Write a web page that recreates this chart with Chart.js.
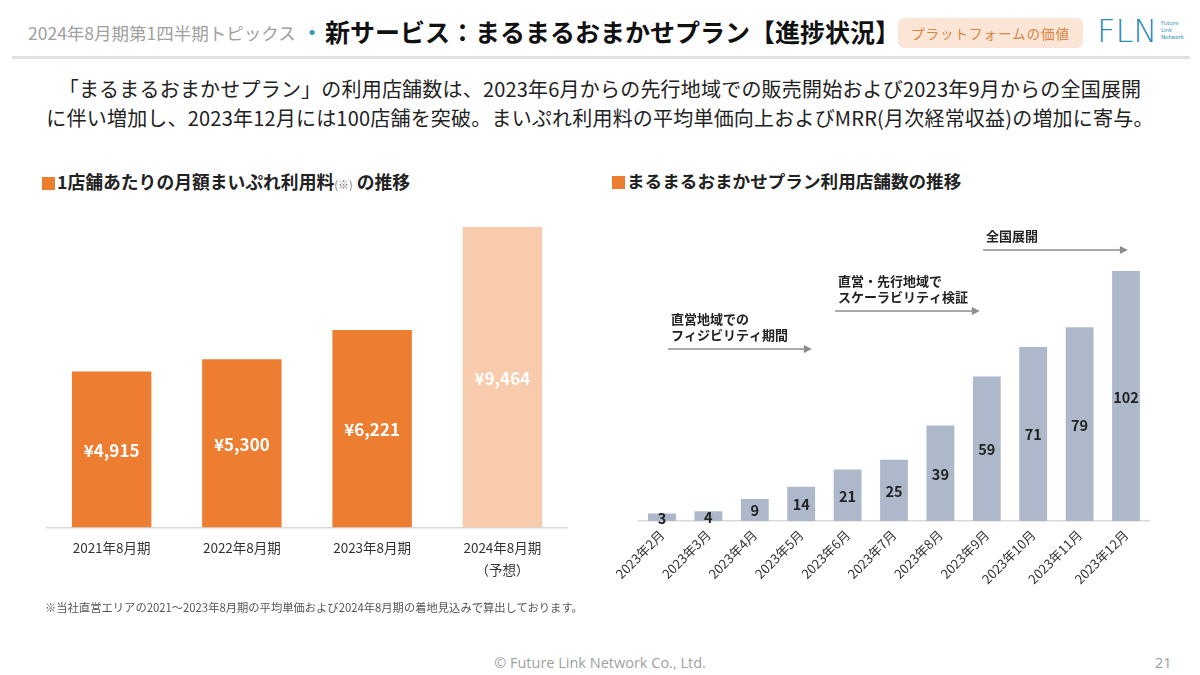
<!DOCTYPE html>
<html><head><meta charset="utf-8">
<script src="https://cdn.jsdelivr.net/npm/chart.js@4.4.0/dist/chart.umd.min.js"></script>
<style>
html,body{margin:0;padding:0;background:#fff;}
body{width:1200px;height:675px;position:relative;overflow:hidden;font-family:"Noto Sans CJK JP","Noto Sans",sans-serif;}
.abs{position:absolute;white-space:nowrap;}
#hdrSub{left:28px;top:20px;font-size:17.5px;color:#a0a0a0;}
#hdrDot{left:302px;top:17px;font-size:20px;color:#3a95b0;font-weight:bold;}
#hdrMain{left:325px;top:13px;font-size:25px;font-weight:bold;color:#111;}
#badge{left:898px;top:18px;width:185px;height:30px;background:#fbe5d6;border-radius:6px;color:#d9843f;font-size:13.5px;line-height:30px;text-align:center;letter-spacing:1px;}
#logo{left:1097px;top:12px;font-size:32px;color:#2e8cb6;font-family:"DejaVu Sans",sans-serif;font-weight:300;letter-spacing:0px;}
#logoSm{left:1161px;top:20px;font-size:5.5px;line-height:7px;color:#2e8cb6;font-family:"DejaVu Sans",sans-serif;}
#rule{left:12px;top:56px;width:1178px;height:3px;background:#e0e0e0;}
#body{left:0;top:74px;width:1200px;text-align:center;font-size:20px;line-height:29px;color:#222;letter-spacing:0.2px;}
.ttl{font-weight:bold;color:#222;}
.sq{display:inline-block;width:13px;height:13px;background:#ed7d31;margin-right:2px;vertical-align:-1px;}
#t1{left:42px;top:168px;font-size:17.8px;}
#t2{left:612px;top:168px;font-size:17.6px;}
.sm{font-size:11px;color:#777;font-weight:normal;}
#note{left:45px;top:599px;font-size:11.3px;color:#555;}
#foot{left:0;top:653px;width:1200px;text-align:center;font-size:14.5px;color:#a0a0a0;font-family:"Open Sans","Noto Sans",sans-serif;}
#page{left:1155px;top:653px;font-size:14.5px;color:#a0a0a0;font-family:"Open Sans","Noto Sans",sans-serif;}
#c1{position:absolute;left:40px;top:200px;width:540px;height:402px;}
#c2{position:absolute;left:560px;top:220px;width:600px;height:390px;}
</style></head>
<body>
<div class="abs" id="hdrSub">2024年8月期第1四半期トピックス</div>
<div class="abs" id="hdrDot">・</div>
<div class="abs" id="hdrMain">新サービス：まるまるおまかせプラン【進捗状況】</div>
<div class="abs" id="badge">プラットフォームの価値</div>
<div class="abs" id="logo">FLN</div>
<div class="abs" id="logoSm">Future<br>Link<br>Network</div>
<div class="abs" id="rule"></div>
<div class="abs" id="body">「まるまるおまかせプラン」の利用店舗数は、2023年6月からの先行地域での販売開始および2023年9月からの全国展開<br>に伴い増加し、2023年12月には100店舗を突破。まいぷれ利用料の平均単価向上およびMRR(月次経常収益)の増加に寄与。</div>
<div class="abs ttl" id="t1"><span class="sq"></span>1店舗あたりの月額まいぷれ利用料<span class="sm">(※)</span> の推移</div>
<div class="abs ttl" id="t2"><span class="sq"></span>まるまるおまかせプラン利用店舗数の推移</div>
<div id="c1"><canvas id="cv1"></canvas></div>
<div id="c2"><canvas id="cv2"></canvas></div>
<div class="abs" id="note">※当社直営エリアの2021～2023年8月期の平均単価および2024年8月期の着地見込みで算出しております。</div>
<div class="abs" id="foot">© Future Link Network Co., Ltd.</div>
<div class="abs" id="page">21</div>
<script>
// ---- data ----
const feeCategories = [["2021年8月期"], ["2022年8月期"], ["2023年8月期"], ["2024年8月期", "（予想）"]];
const feeValues = [4915, 5300, 6221, 9464];
const storeCategories = ["2023年2月","2023年3月","2023年4月","2023年5月","2023年6月","2023年7月","2023年8月","2023年9月","2023年10月","2023年11月","2023年12月"];
const storeValues = [3, 4, 9, 14, 21, 25, 39, 59, 71, 79, 102];
const phaseLabels = [["直営地域での","フィジビリティ期間"], ["直営・先行地域で","スケーラビリティ検証"], ["全国展開"]];
const phaseFrom = [0.13, 3.73, 6.92];
const phaseTo = [3.23, 6.85, 10.04];

const FONT = '"Noto Sans CJK JP","Noto Sans",sans-serif';

function labelPlugin(id, color, size, fmt) {
  return {
    id: id,
    afterDatasetsDraw(chart) {
      const ctx = chart.ctx;
      const meta = chart.getDatasetMeta(0);
      const data = chart.data.datasets[0].data;
      ctx.save();
      ctx.fillStyle = color;
      ctx.font = 'bold ' + size + 'px ' + FONT;
      ctx.textAlign = 'center';
      ctx.textBaseline = 'middle';
      meta.data.forEach((bar, i) => {
        ctx.fillText(fmt(data[i]), bar.x, (bar.y + bar.base) / 2 + 1);
      });
      ctx.restore();
    }
  };
}

const phasePlugin = {
  id: 'phases',
  afterDraw(chart) {
    const ctx = chart.ctx;
    const xs = chart.scales.x;
    const arrowY = [129, 91, 30];
    ctx.save();
    phaseLabels.forEach((lines, k) => {
      const x1 = xs.getPixelForValue(phaseFrom[k]);
      const x2 = xs.getPixelForValue(phaseTo[k]);
      const y = arrowY[k];
      ctx.strokeStyle = '#8c8c8c';
      ctx.fillStyle = '#8c8c8c';
      ctx.lineWidth = 1.5;
      ctx.beginPath();
      ctx.moveTo(x1, y);
      ctx.lineTo(x2 - 6, y);
      ctx.stroke();
      ctx.beginPath();
      ctx.moveTo(x2, y);
      ctx.lineTo(x2 - 8, y - 4);
      ctx.lineTo(x2 - 8, y + 4);
      ctx.closePath();
      ctx.fill();
      ctx.fillStyle = '#222';
      ctx.font = 'bold 13px ' + FONT;
      ctx.textAlign = 'left';
      ctx.textBaseline = 'middle';
      const n = lines.length;
      lines.forEach((t, j) => {
        ctx.fillText(t, x1 + 3, y - 14 - (n - 1 - j) * 16);
      });
    });
    ctx.restore();
  }
};

new Chart(document.getElementById('cv1'), {
  type: 'bar',
  data: {
    labels: feeCategories,
    datasets: [{
      data: feeValues,
      backgroundColor: ['#ed7d31', '#ed7d31', '#ed7d31', '#f8cbad'],
      barPercentage: 1,
      categoryPercentage: 0.61
    }]
  },
  options: {
    responsive: true,
    maintainAspectRatio: false,
    animation: false,
    layout: { padding: { top: 10, left: 6.5, right: 12.5, bottom: 12 } },
    plugins: { legend: { display: false }, tooltip: { enabled: false } },
    scales: {
      x: {
        grid: { display: false, drawTicks: false },
        border: { display: true, color: '#d9d9d9', width: 1.5 },
        ticks: { color: '#333', font: { size: 13.5, family: FONT, lineHeight: 1.65 }, padding: 9 }
      },
      y: { display: false, min: 0, max: 10000 }
    }
  },
  plugins: [labelPlugin('lbl1', '#ffffff', 17, v => '¥' + v.toLocaleString('en-US'))]
});

new Chart(document.getElementById('cv2'), {
  type: 'bar',
  data: {
    labels: storeCategories,
    datasets: [{
      data: storeValues,
      backgroundColor: '#adb9ca',
      barPercentage: 1,
      categoryPercentage: 0.6
    }]
  },
  options: {
    responsive: true,
    maintainAspectRatio: false,
    animation: false,
    layout: { padding: { top: 31.4, left: 78.8, right: 10.8, bottom: 17 } },
    plugins: { legend: { display: false }, tooltip: { enabled: false } },
    scales: {
      x: {
        grid: { display: false, drawTicks: false },
        border: { display: true, color: '#d9d9d9', width: 1.5 },
        ticks: { color: '#333', font: { size: 13, family: FONT }, padding: 6, minRotation: 45, maxRotation: 45, autoSkip: false }
      },
      y: { display: false, min: 0, max: 110 }
    }
  },
  plugins: [labelPlugin('lbl2', '#222222', 14.5, v => String(v)), phasePlugin]
});
</script>
</body></html>
